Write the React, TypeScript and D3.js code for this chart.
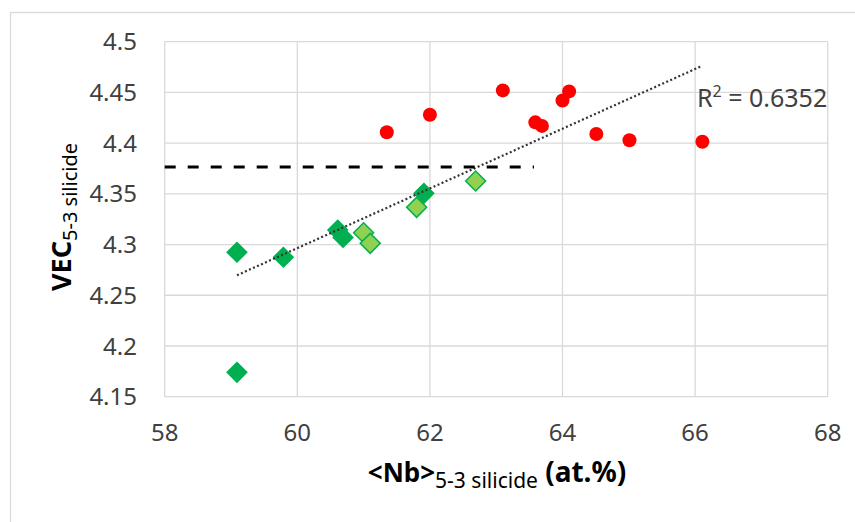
import React from "react";
import * as d3 from "d3";

const redX = [61.35, 62.0, 63.1, 64.0, 64.1, 63.59, 63.69, 64.51, 65.01, 66.11];
const redY = [4.4107, 4.428, 4.452, 4.442, 4.451, 4.4205, 4.417, 4.409, 4.4028, 4.4014];
const darkX = [59.09, 59.09, 59.79, 60.61, 60.69, 61.91];
const darkY = [4.2924, 4.174, 4.2875, 4.3143, 4.307, 4.3505];
const lightX = [61.0, 61.1, 61.8, 62.69];
const lightY = [4.3117, 4.3012, 4.3367, 4.3627];
const trendX = [59.09, 66.11];
const trendY = [4.2697, 4.4763];
const dashX = [58, 63.57];
const dashY = [4.3765, 4.3765];
const xTicks = [58, 60, 62, 64, 66, 68];
const yTicks = [4.15, 4.2, 4.25, 4.3, 4.35, 4.4, 4.45, 4.5];
const r2Label = "0.6352";

export default function App() {
  const W = 855, H = 522;
  const left = 164.7, right = 827.7, top = 41.7, bottom = 396.7;
  const x = d3.scaleLinear().domain([58, 68]).range([left, right]);
  const y = d3.scaleLinear().domain([4.15, 4.5]).range([bottom, top]);
  const line = d3.line<[number, number]>().x(d => x(d[0])).y(d => y(d[1]));
  const sq = d3.symbol().type(d3.symbolSquare).size(235)() as string;
  const sqL = d3.symbol().type(d3.symbolSquare).size(200)() as string;
  const font = "'Noto Sans', 'Open Sans', sans-serif";
  const grid = "#D9D9D9";
  return (
    <svg width={W} height={H} style={{ position: "absolute", left: 0, top: 0, background: "#fff" }} fontFamily={font}>
      <rect x={10.5} y={12.5} width={900} height={600} fill="#fff" stroke={grid} strokeWidth={1.3} />
      {yTicks.map(t => (
        <g key={"y" + t}>
          <line x1={left} x2={right} y1={y(t)} y2={y(t)} stroke={grid} strokeWidth={1.3} />
          <text x={137} y={y(t)} dy="0.36em" textAnchor="end" fontSize={24} fill="#404040">{String(t)}</text>
        </g>
      ))}
      {xTicks.map(t => (
        <g key={"x" + t}>
          <line x1={x(t)} x2={x(t)} y1={top} y2={bottom} stroke={grid} strokeWidth={1.3} />
          <text x={x(t)} y={432} dy="0.36em" textAnchor="middle" fontSize={24} fill="#404040">{String(t)}</text>
        </g>
      ))}
      {redX.map((v, i) => (
        <circle key={"r" + i} cx={x(v)} cy={y(redY[i])} r={7} fill="#FF0000" />
      ))}
      {darkX.map((v, i) => (
        <path key={"d" + i} d={sq} transform={`translate(${x(v)},${y(darkY[i])}) rotate(45)`} fill="#00B050" />
      ))}
      {lightX.map((v, i) => (
        <path key={"l" + i} d={sqL} transform={`translate(${x(v)},${y(lightY[i])}) rotate(45)`} fill="#92D050" stroke="#00B050" strokeWidth={1.5} />
      ))}
      <path d={line(trendX.map((v, i) => [v, trendY[i]] as [number, number])) as string} fill="none" stroke="#333" strokeWidth={2.2} strokeDasharray="2,2.4" />
      <path d={line(dashX.map((v, i) => [v, dashY[i]] as [number, number])) as string} fill="none" stroke="#000" strokeWidth={3} strokeDasharray="11,12" />
      <text x={697} y={107} fontSize={25} fill="#404040">
        R<tspan fontSize={16} dy={-10}>2</tspan><tspan dy={10}>{" = " + r2Label}</tspan>
      </text>
      <text x={497} y={482} textAnchor="middle" fill="#000">
        <tspan fontWeight="bold" fontSize={26}>{"<Nb>"}</tspan>
        <tspan fontSize={21} dy={6}>5-3 silicide</tspan>
        <tspan fontWeight="bold" fontSize={28} dy={-6}>{" (at.%)"}</tspan>
      </text>
      <text transform="translate(71,217) rotate(-90)" textAnchor="middle" fill="#000">
        <tspan fontWeight="bold" fontSize={27}>VEC</tspan>
        <tspan fontSize={20} dy={6}>5-3 silicide</tspan>
      </text>
    </svg>
  );
}
